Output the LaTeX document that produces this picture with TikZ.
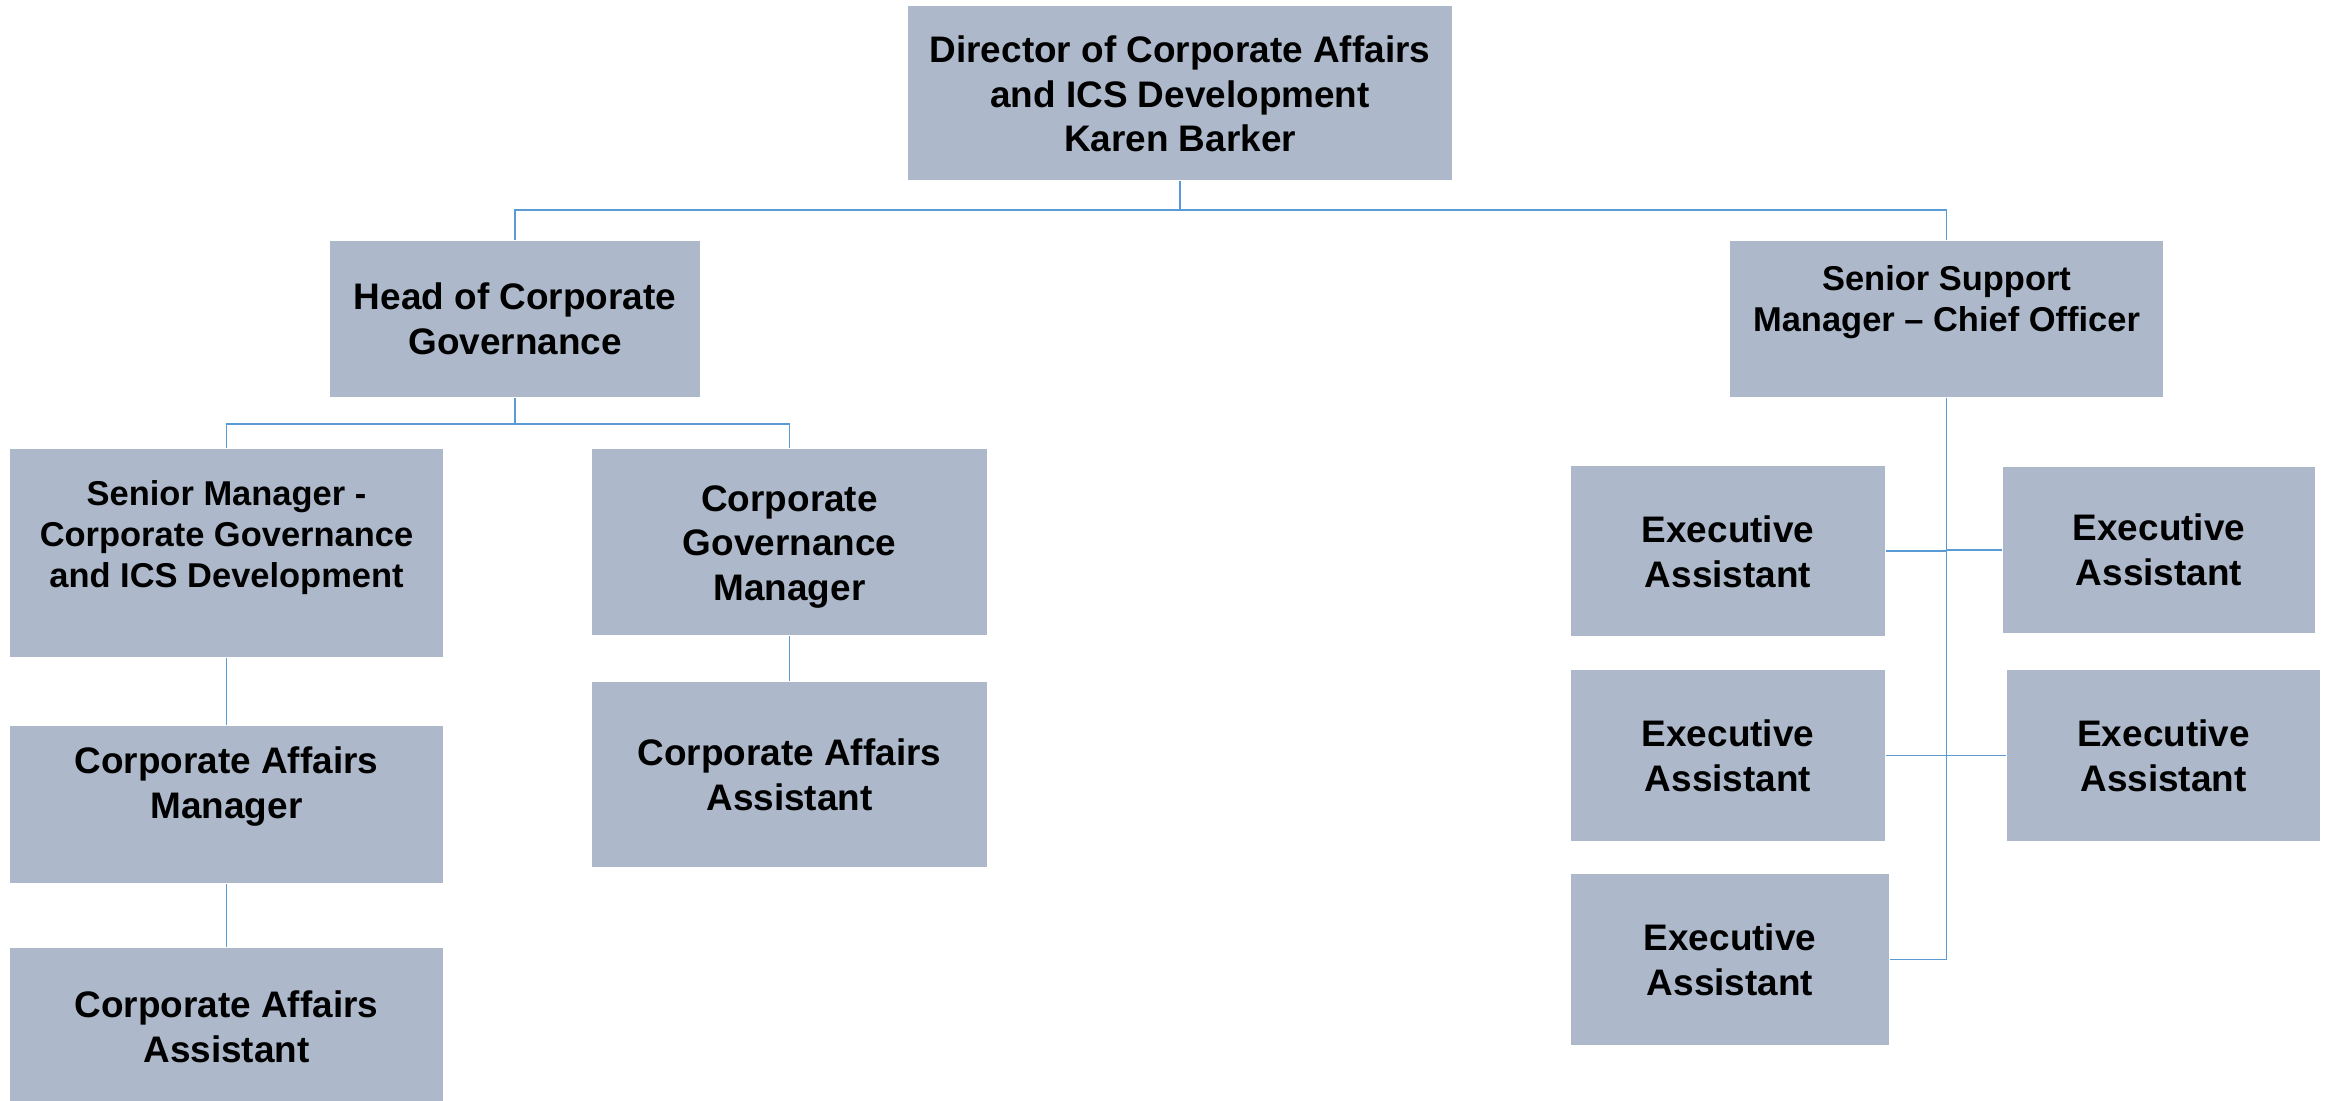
\documentclass[tikz,border=0pt]{standalone}
\usepackage{fontspec}
\setmainfont{Liberation Sans}
\definecolor{boxfill}{RGB}{173,185,202}
\definecolor{linkblue}{RGB}{91,155,213}
\begin{document}
\begin{tikzpicture}[x=0.01cm,y=-0.01cm,
  box/.style={rectangle, fill=boxfill, draw=none, inner sep=0pt},
  lbl/.style={align=center, text=black, font=\fontsize{10.5pt}{12.7pt}\selectfont\bfseries,
    inner sep=0pt, execute at begin node=\strut, execute at end node=\strut},
  lblsmall/.style={lbl, font=\fontsize{9.8pt}{11.7pt}\selectfont\bfseries},
  link/.style={draw=linkblue, line width=0.5pt}]
\useasboundingbox (0,0) rectangle (2331,1101);
% boxes
\node[box, minimum width=5.44cm, minimum height=1.74cm] (dir) at (1180,93) {};
\node[box, minimum width=3.70cm, minimum height=1.56cm] (hcg) at (515,319) {};
\node[box, minimum width=4.33cm, minimum height=1.56cm] (ssm) at (1946.5,319) {};
\node[box, minimum width=4.33cm, minimum height=2.08cm] (smg) at (226.5,553) {};
\node[box, minimum width=3.95cm, minimum height=1.86cm] (cgm) at (789.5,542) {};
\node[box, minimum width=4.33cm, minimum height=1.57cm] (cam) at (226.5,804.5) {};
\node[box, minimum width=4.33cm, minimum height=1.53cm] (caa1) at (226.5,1024.5) {};
\node[box, minimum width=3.95cm, minimum height=1.85cm] (caa2) at (789.5,774.5) {};
\node[box, minimum width=3.14cm, minimum height=1.70cm] (ea1) at (1728,551) {};
\node[box, minimum width=3.12cm, minimum height=1.66cm] (ea2) at (2159,550) {};
\node[box, minimum width=3.14cm, minimum height=1.71cm] (ea3) at (1728,755.5) {};
\node[box, minimum width=3.13cm, minimum height=1.71cm] (ea4) at (2163.5,755.5) {};
\node[box, minimum width=3.18cm, minimum height=1.71cm] (ea5) at (1730,959.5) {};
% texts
\node[lbl] (dir-t) at (1180,100.5) {Director of Corporate Affairs\\and ICS Development\\Karen Barker};
\node[lbl] (hcg-t) at (515,325.5) {Head of Corporate\\Governance};
\node[lblsmall] (ssm-t) at (1946.5,304.5) {Senior Support\\Manager -- Chief Officer};
\node[lblsmall] (smg-t) at (226.5,540) {Senior Manager -\\Corporate Governance\\and ICS Development};
\node[lbl] (cgm-t) at (789.5,549.5) {Corporate\\Governance\\Manager};
\node[lbl] (cam-t) at (226.5,789.5) {Corporate Affairs\\Manager};
\node[lbl] (caa1-t) at (226.5,1033.5) {Corporate Affairs\\Assistant};
\node[lbl] (caa2-t) at (789.5,781.5) {Corporate Affairs\\Assistant};
\node[lbl] (ea1-t) at (1728,558.5) {Executive\\Assistant};
\node[lbl] (ea2-t) at (2159,556.5) {Executive\\Assistant};
\node[lbl] (ea3-t) at (1728,762.5) {Executive\\Assistant};
\node[lbl] (ea4-t) at (2163.5,762.5) {Executive\\Assistant};
\node[lbl] (ea5-t) at (1730,966.5) {Executive\\Assistant};
% connectors
\coordinate (bus1) at (1180,210);
\draw[link] (dir.south) -- (bus1);
\draw[link] (hcg.north) -- (hcg.north |- bus1) -- (ssm.north |- bus1) -- (ssm.north);
\coordinate (bus2) at (515,424);
\draw[link] (hcg.south) -- (bus2);
\draw[link] (smg.north) -- (smg.north |- bus2) -- (cgm.north |- bus2) -- (cgm.north);
\draw[link] (smg.south) -- (cam.north);
\draw[link] (cam.south) -- (caa1.north);
\draw[link] (cgm.south) -- (caa2.north);
\coordinate (ssmEnd) at (1946.5,959.5);
\draw[link] (ssm.south) -- (ssmEnd);
\draw[link] (ea1.east) -- (ea1.east -| ssm.south);
\draw[link] (ea2.west) -- (ea2.west -| ssm.south);
\draw[link] (ea3.east) -- (ea3.east -| ssm.south);
\draw[link] (ea4.west) -- (ea4.west -| ssm.south);
\draw[link] (ea5.east) -- (ssmEnd);
\end{tikzpicture}
\end{document}
